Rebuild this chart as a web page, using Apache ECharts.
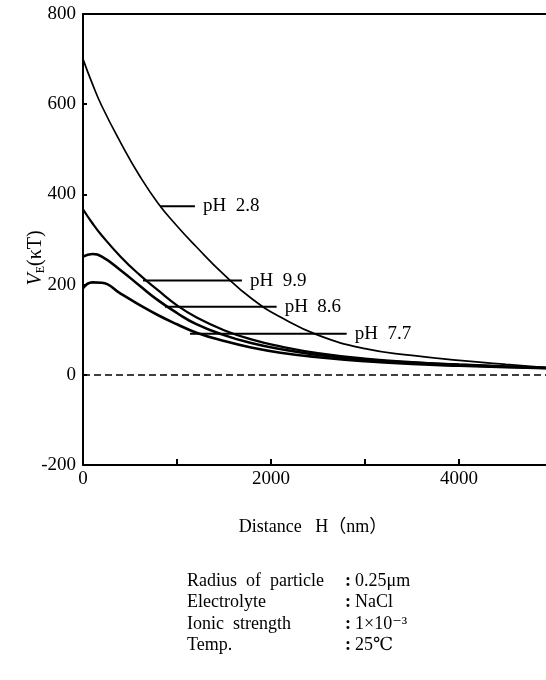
<!DOCTYPE html>
<html>
<head>
<meta charset="utf-8">
<script src="https://cdn.jsdelivr.net/npm/echarts@6/dist/echarts.min.js"></script>
<style>
html,body{margin:0;padding:0;background:#fff;}
#chart{width:546px;height:680px;}
</style>
</head>
<body>
<div id="chart"></div>
<script>
// Distance H (nm)
var distance = [0, 100, 200, 400, 600, 800, 1000, 1200, 1500, 1800, 2100, 2500, 3000, 3500, 4000, 4500, 5000];
// V_E (kT) for each pH
var ph28 = [700, 645, 596, 515, 442, 380, 330, 285, 222, 168, 128, 88, 58, 43, 32, 23, 15];
var ph99 = [367, 336, 309, 262, 222, 187, 154, 128, 99, 78, 63, 48, 36, 28, 23, 19, 15];
var ph86 = [262, 268, 262, 232, 198, 165, 137, 113, 88, 70, 57, 44, 33, 27, 22, 18, 15];
var ph77 = [192, 205, 204, 180, 155, 132, 112, 94, 75, 60, 49, 39, 30, 24, 20, 17, 14];

// leader lines for curve labels (data coordinates)
var labelNames = ['pH  2.8', 'pH  9.9', 'pH  8.6', 'pH  7.7'];
var leaderY = [374, 209, 151, 91];
var leaderStart = [819, 638, 872, 1138];
var leaderEnd = [1191, 1691, 2060, 2805];

// axis ticks
var xLabelValues = [0, 2000, 4000];
var yTickLabels = ['-200', '0', '200', '400', '600', '800'];

// conditions block
var condKeys = ['Radius  of  particle', 'Electrolyte', 'Ionic  strength', 'Temp.'];
var condVals = ['0.25μm', 'NaCl', '1×10⁻³', '25℃'];

var FONT = '"Liberation Serif", "DejaVu Serif", serif';
var FONT_CJK = '"Liberation Serif", "Noto Sans CJK JP", serif';

function zip(xs, ys) { return xs.map(function (x, i) { return [x, ys[i]]; }); }

var curveSets = [ph28, ph99, ph86, ph77];
var widths = [1.7, 2.2, 2.6, 2.6];
var series = curveSets.map(function (ys, i) {
  return {
    type: 'line', xAxisIndex: 0, data: zip(distance, ys), smooth: 0.5, showSymbol: false,
    lineStyle: { color: '#000', width: widths[i] }, z: 3, silent: true
  };
});
labelNames.forEach(function (name, i) {
  series.push({
    type: 'line', xAxisIndex: 0, data: [[leaderStart[i], leaderY[i]], [leaderEnd[i], leaderY[i]]],
    showSymbol: false, silent: true,
    lineStyle: { color: '#000', width: 2 },
    endLabel: { show: true, formatter: name, distance: 8, color: '#000', fontFamily: FONT, fontSize: 19 }
  });
});
// zero dashed line
series.push({
  type: 'line', xAxisIndex: 0, data: [], silent: true,
  markLine: {
    symbol: 'none', silent: true, label: { show: false },
    lineStyle: { color: '#000', type: [7, 4], width: 1.6 },
    data: [{ yAxis: 0 }]
  }
});

var graphics = [
  {
    type: 'text', x: 36, y: 258, rotation: Math.PI / 2,
    style: {
      text: '{v|V}{s|E}{n|(κT)}', align: 'center', verticalAlign: 'middle',
      rich: {
        v: { fontFamily: FONT, fontSize: 20, fontStyle: 'italic', fill: '#000' },
        s: { fontFamily: FONT, fontSize: 12, fill: '#000', verticalAlign: 'bottom', padding: [9, 0, 0, 0] },
        n: { fontFamily: FONT, fontSize: 20, fill: '#000' }
      }
    }
  },
  {
    type: 'text', x: 313, y: 527,
    style: { text: 'Distance   H（nm）', fontFamily: FONT_CJK, fontSize: 18, fill: '#000', align: 'center', verticalAlign: 'middle' }
  }
];
condKeys.forEach(function (k, i) {
  var yy = 581 + i * 21.5;
  graphics.push({ type: 'text', x: 187, y: yy, style: { text: k, fontFamily: FONT, fontSize: 18, fill: '#000', verticalAlign: 'middle' } });
  graphics.push({ type: 'text', x: 345, y: yy, style: { text: ':', fontFamily: FONT, fontSize: 18, fontWeight: 'bold', fill: '#000', verticalAlign: 'middle' } });
  graphics.push({ type: 'text', x: 355, y: yy, style: { text: condVals[i], fontFamily: FONT, fontSize: 18, fill: '#000', verticalAlign: 'middle' } });
});

var chart = echarts.init(document.getElementById('chart'), null, { renderer: 'canvas' });
chart.setOption({
  animation: false,
  backgroundColor: '#fff',
  grid: { left: 83, top: 14, width: 470, height: 451, show: false, containLabel: false, outerBoundsMode: 'none' },
  xAxis: [{
    type: 'value', min: 0, max: 5000, interval: 1000,
    axisLine: { show: true, onZero: false, lineStyle: { color: '#000', width: 2 } },
    axisTick: { show: true, inside: true, length: 6, lineStyle: { color: '#000', width: 2 } },
    axisLabel: {
      color: '#000', fontFamily: FONT, fontSize: 19, margin: 5,
      formatter: function (v) { return xLabelValues.indexOf(v) >= 0 ? String(v) : ''; }
    },
    splitLine: { show: false }
  }, {
    type: 'value', position: 'top', min: 0, max: 5000,
    axisLine: { show: true, onZero: false, lineStyle: { color: '#000', width: 2 } },
    axisTick: { show: false }, axisLabel: { show: false }, splitLine: { show: false }
  }],
  yAxis: {
    type: 'value', min: -200, max: 800, interval: 200,
    axisLine: { show: true, onZero: false, lineStyle: { color: '#000', width: 2 } },
    axisTick: { show: true, inside: true, length: 4, lineStyle: { color: '#000', width: 2 } },
    axisLabel: {
      color: '#000', fontFamily: FONT, fontSize: 19, margin: 7,
      formatter: function (v) { return yTickLabels[(v + 200) / 200] || ''; }
    },
    splitLine: { show: false }
  },
  series: series,
  graphic: graphics
});
</script>
</body>
</html>
